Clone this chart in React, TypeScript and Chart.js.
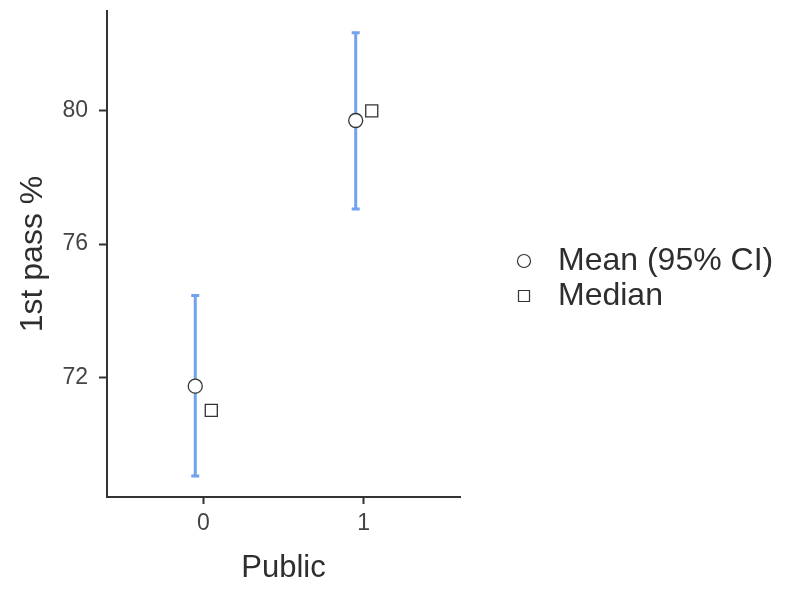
import React, { useEffect, useRef } from "react";
import { Chart, registerables } from "chart.js";

Chart.register(...registerables);

// ---- Data ----
const categories = [0, 1];
const xTickLabels = ["0", "1"];
const meanValues = [71.73, 79.71];
const ciLower = [69.03, 77.05];
const ciUpper = [74.45, 82.35];
const medianValues = [71, 80];
const yTicks = [72, 76, 80];
const legendLabels = ["Mean (95% CI)", "Median"];
const xTitle = "Public";
const yTitle = "1st pass %";

// ---- Style constants ----
const DODGE = 0.05;
const FONT = "'Liberation Sans', Arial, Helvetica, sans-serif";
const AXIS_COLOR = "#333333";
const TICK_TEXT = "#444444";
const TITLE_TEXT = "#2e2e2e";
const BAR_COLOR = "#72a2ee";

const errorBarPlugin = {
  id: "errorBars",
  beforeDatasetsDraw(chart: any) {
    const { ctx, scales } = chart;
    const x = scales.x;
    const y = scales.y;
    ctx.save();
    ctx.strokeStyle = BAR_COLOR;
    ctx.lineWidth = 3;
    ctx.lineCap = "butt";
    categories.forEach((c, i) => {
      const px = x.getPixelForValue(c - DODGE);
      const top = y.getPixelForValue(ciUpper[i]);
      const bot = y.getPixelForValue(ciLower[i]);
      ctx.beginPath();
      ctx.moveTo(px, top);
      ctx.lineTo(px, bot);
      ctx.moveTo(px - 4, top);
      ctx.lineTo(px + 4, top);
      ctx.moveTo(px - 4, bot);
      ctx.lineTo(px + 4, bot);
      ctx.stroke();
    });
    ctx.restore();
  },
};

const legendPlugin = {
  id: "customLegend",
  afterDraw(chart: any) {
    const { ctx } = chart;
    ctx.save();
    const sx = 524;
    const rows = [261, 296];
    ctx.strokeStyle = AXIS_COLOR;
    ctx.fillStyle = "#ffffff";
    ctx.lineWidth = 1.2;
    ctx.beginPath();
    ctx.arc(sx, rows[0], 6.5, 0, Math.PI * 2);
    ctx.fill();
    ctx.stroke();
    ctx.beginPath();
    ctx.rect(sx - 5.5, rows[1] - 5.5, 11, 11);
    ctx.fill();
    ctx.stroke();
    ctx.fillStyle = TITLE_TEXT;
    ctx.font = `32px ${FONT}`;
    ctx.textAlign = "left";
    ctx.textBaseline = "middle";
    legendLabels.forEach((t, i) => {
      ctx.fillText(t, 558, rows[i]);
    });
    ctx.restore();
  },
};

export default function App() {
  const canvasRef = useRef<HTMLCanvasElement | null>(null);

  useEffect(() => {
    if (!canvasRef.current) return;
    const chart = new Chart(canvasRef.current, {
      type: "scatter",
      data: {
        datasets: [
          {
            label: legendLabels[0],
            data: categories.map((c, i) => ({ x: c - DODGE, y: meanValues[i] })),
            pointStyle: "circle",
            pointRadius: 7,
            pointHoverRadius: 7,
            backgroundColor: "#ffffff",
            borderColor: AXIS_COLOR,
            borderWidth: 1.3,
          },
          {
            label: legendLabels[1],
            data: categories.map((c, i) => ({ x: c + DODGE, y: medianValues[i] })),
            pointStyle: "rect",
            pointRadius: 8.5,
            pointHoverRadius: 8.5,
            backgroundColor: "#ffffff",
            borderColor: AXIS_COLOR,
            borderWidth: 1.3,
          },
        ],
      },
      options: {
        animation: false,
        responsive: false,
        maintainAspectRatio: false,
        layout: { padding: { left: 0, top: 11, right: 340, bottom: 0 } },
        plugins: {
          legend: { display: false },
          tooltip: { enabled: false },
        },
        scales: {
          x: {
            type: "linear",
            min: -0.6,
            max: 1.6,
            afterBuildTicks: (scale: any) => {
              scale.ticks = categories.map((v) => ({ value: v }));
            },
            afterFit: (scale: any) => {
              scale.height = 103;
              scale.paddingLeft = 0;
              scale.paddingRight = 0;
            },
            ticks: {
              callback: (v: any) => {
                const idx = categories.indexOf(Number(v));
                return idx >= 0 ? xTickLabels[idx] : "";
              },
              font: { family: FONT, size: 23 },
              color: TICK_TEXT,
              padding: 6,
              maxRotation: 0,
            },
            grid: {
              drawOnChartArea: false,
              drawTicks: true,
              tickLength: 7,
              tickWidth: 2,
              tickColor: AXIS_COLOR,
            },
            border: { display: true, color: AXIS_COLOR, width: 2 },
            title: {
              display: true,
              text: xTitle,
              font: { family: FONT, size: 31 },
              color: TITLE_TEXT,
              padding: { top: 0, bottom: 13 },
            },
          },
          y: {
            type: "linear",
            min: 68.4,
            max: 83.0,
            afterBuildTicks: (scale: any) => {
              scale.ticks = yTicks.map((v) => ({ value: v }));
            },
            afterFit: (scale: any) => {
              scale.width = 107;
              scale.paddingTop = 0;
              scale.paddingBottom = 0;
            },
            ticks: {
              font: { family: FONT, size: 23 },
              color: TICK_TEXT,
              padding: 11,
            },
            grid: {
              drawOnChartArea: false,
              drawTicks: true,
              tickLength: 8,
              tickWidth: 2,
              tickColor: AXIS_COLOR,
            },
            border: { display: true, color: AXIS_COLOR, width: 2 },
            title: {
              display: true,
              text: yTitle,
              font: { family: FONT, size: 32 },
              color: TITLE_TEXT,
              padding: { top: 14, bottom: 0 },
            },
          },
        },
      } as any,
      plugins: [errorBarPlugin, legendPlugin],
    });
    return () => chart.destroy();
  }, []);

  return (
    <div style={{ position: "fixed", left: 0, top: 0, width: 800, height: 600, background: "#ffffff" }}>
      <canvas ref={canvasRef} width={800} height={600} style={{ display: "block" }} />
    </div>
  );
}
